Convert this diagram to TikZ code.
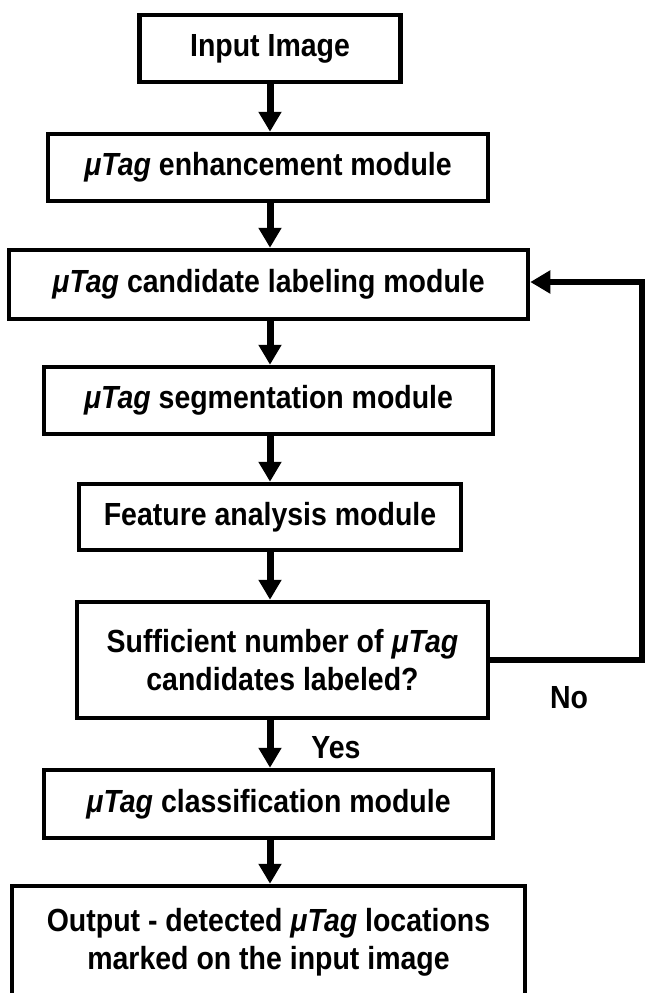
\documentclass[tikz,border=0pt]{standalone}
\usepackage{fontspec}
\setmainfont{Liberation Sans}[FakeStretch=0.89]
\usetikzlibrary{arrows.meta}
\newcommand\mtag{\textit{μTag}}
\tikzset{
  box/.style={draw=black, line width=4.5pt, fill=white, rectangle, inner sep=0pt, align=center,
    font=\fontsize{32}{38.5}\selectfont\bfseries},
  lbl/.style={inner sep=0pt, font=\fontsize{32}{34}\selectfont\bfseries},
  arr/.style={line width=7pt, -{Triangle[width=22pt,length=20pt]}},
  fb/.style={line width=5.5pt, line join=miter, -{Triangle[width=22pt,length=20pt]}}
}
\begin{document}
\begin{tikzpicture}[x=1pt,y=-1pt]
\useasboundingbox (0,0) rectangle (645,993);
\node[box, minimum width=261pt, minimum height=67pt] (b1) at (270,48.5) {Input Image};
\node[box, minimum width=440pt, minimum height=67pt] (b2) at (268,167.5) {\mtag{} enhancement module};
\node[box, minimum width=519pt, minimum height=69pt] (b3) at (268.5,284.5) {\mtag{} candidate labeling module};
\node[box, minimum width=449pt, minimum height=67pt] (b4) at (268.5,400.5) {\mtag{} segmentation module};
\node[box, minimum width=382pt, minimum height=66pt] (b5) at (270,517) {Feature analysis module};
\node[box, minimum width=411pt, minimum height=116pt] (b6) at (282.5,660) {Sufficient number of \mtag\\candidates labeled?};
\node[box, minimum width=449pt, minimum height=68pt] (b7) at (268.5,804) {\mtag{} classification module};
\node[box, minimum width=513pt, minimum height=113pt] (b8) at (268.5,942.5) {Output - detected \mtag{} locations\\marked on the input image};
\coordinate (ax) at (270,0);
\coordinate (rx) at (642,0);
\draw[arr] (b1.south -| ax) -- (b2.north -| ax);
\draw[arr] (b2.south -| ax) -- (b3.north -| ax);
\draw[arr] (b3.south -| ax) -- (b4.north -| ax);
\draw[arr] (b4.south -| ax) -- (b5.north -| ax);
\draw[arr] (b5.south -| ax) -- (b6.north -| ax);
\draw[arr] (b6.south -| ax) -- (b7.north -| ax);
\draw[arr] (b7.south -| ax) -- (b8.north -| ax);
\draw[fb] (b6.east) -- (b6.east -| rx) -- ([yshift=2.5pt]b3.east -| rx) -- ([yshift=2.5pt]b3.east);
\node[lbl] (yes) at (336,748) {Yes};
\node[lbl] (no) at (569,698) {No};
\end{tikzpicture}
\end{document}
